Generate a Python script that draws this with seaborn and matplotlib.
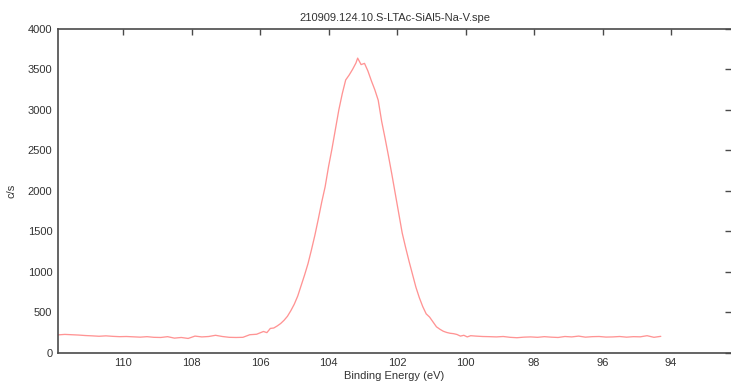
import matplotlib
matplotlib.use("Agg")
import matplotlib.pyplot as plt
import seaborn as sns
import pandas as pd

# Si 2p region scan: binding energy (eV) and counts per second
binding_energy = [
    111.9, 111.7, 111.5, 111.3, 111.1, 110.9, 110.7, 110.5, 110.3, 110.1,
    109.9, 109.7, 109.5, 109.3, 109.1, 108.9, 108.7, 108.5, 108.3, 108.1,
    107.9, 107.7, 107.5, 107.3, 107.1, 106.9, 106.7, 106.5, 106.3, 106.1,
    105.9, 105.8, 105.7, 105.6, 105.5, 105.4, 105.3, 105.2, 105.1, 105.0,
    104.9, 104.8, 104.7, 104.6, 104.5, 104.4, 104.3, 104.2, 104.1, 104.0,
    103.9, 103.8, 103.7, 103.6, 103.5, 103.4, 103.3, 103.2, 103.15, 103.05,
    102.95, 102.85, 102.75, 102.65, 102.55, 102.45, 102.35, 102.25, 102.15, 102.05,
    101.95, 101.85, 101.75, 101.65, 101.55, 101.45, 101.35, 101.25, 101.15, 101.05,
    100.95, 100.85, 100.75, 100.65, 100.55, 100.45, 100.35, 100.25, 100.15, 100.05,
    99.95, 99.85, 99.7, 99.5, 99.3, 99.1, 98.9, 98.7, 98.5, 98.3,
    98.1, 97.9, 97.7, 97.5, 97.3, 97.1, 96.9, 96.7, 96.5, 96.3,
    96.1, 95.9, 95.7, 95.5, 95.3, 95.1, 94.9, 94.7, 94.5, 94.3,
]
counts = [
    220, 226, 222, 218, 212, 208, 203, 208, 202, 198,
    200, 196, 192, 198, 190, 188, 198, 180, 188, 176,
    205, 195, 200, 215, 200, 190, 188, 190, 222, 228,
    262, 248, 300, 305, 330, 360, 400, 450, 520, 600,
    700, 830, 960, 1100, 1270, 1450, 1650, 1860, 2050, 2300,
    2520, 2760, 3000, 3200, 3370, 3430, 3500, 3580, 3640, 3560,
    3575, 3480, 3360, 3250, 3120, 2860, 2650, 2430, 2200, 1960,
    1720, 1480, 1300, 1130, 970, 810, 680, 570, 480, 440,
    380, 320, 290, 265, 250, 240, 235, 225, 205, 215,
    195, 210, 205, 200, 198, 195, 200, 190, 185, 192,
    195, 190, 198, 192, 188, 200, 195, 205, 192, 198,
    200, 193, 195, 200, 192, 198, 196, 210, 190, 202,
]

x_ticks = [110, 108, 106, 104, 102, 100, 98, 96, 94]
y_ticks = [0, 500, 1000, 1500, 2000, 2500, 3000, 3500, 4000]

df = pd.DataFrame({"Binding Energy (eV)": binding_energy, "c/s": counts})

sns.set_style("white")
plt.rcParams["font.family"] = ["Liberation Sans", "DejaVu Sans"]

axis_grey = "#4a4a4a"
text_grey = "#333333"

fig = plt.figure(figsize=(7.31, 3.81), dpi=100)
ax = fig.add_axes([0.0793, 0.0743, 0.9207, 0.8496])

sns.lineplot(data=df, x="Binding Energy (eV)", y="c/s", ax=ax,
             color="#ff9494", linewidth=0.95, sort=False)

ax.set_xlim(111.9, 92.25)
ax.set_ylim(0, 4000)
ax.set_xticks(x_ticks)
ax.set_yticks(y_ticks)
ax.set_xticklabels([str(t) for t in x_ticks])
ax.set_yticklabels([str(t) for t in y_ticks])

ax.tick_params(axis="both", which="major", direction="in", length=4.5,
               width=1.0, color=axis_grey, labelsize=8, labelcolor=text_grey,
               top=True, right=True, labeltop=False, labelright=False, pad=4)

for side in ("left", "bottom", "top"):
    ax.spines[side].set_color(axis_grey)
    ax.spines[side].set_linewidth(1.2)
ax.spines["right"].set_visible(False)

ax.set_title("210909.124.10.S-LTAc-SiAl5-Na-V.spe", fontsize=8,
             color=text_grey, pad=6)
ax.set_xlabel("Binding Energy (eV)", fontsize=8, color=text_grey, labelpad=2)
ax.set_ylabel("c/s", fontsize=8, color=text_grey, labelpad=8)

fig.savefig("out.png", dpi=100)
